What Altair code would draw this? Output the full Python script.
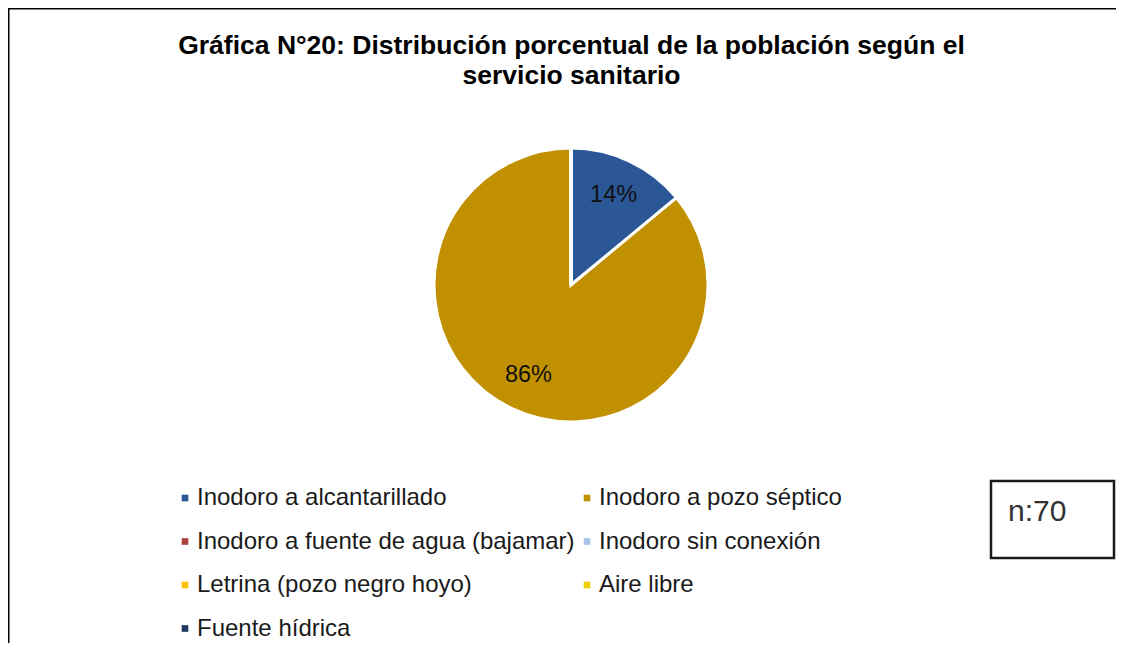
import altair as alt
import pandas as pd

# ---- data ----
categories = [
    "Inodoro a alcantarillado",
    "Inodoro a pozo séptico",
    "Inodoro a fuente de agua (bajamar)",
    "Inodoro sin conexión",
    "Letrina (pozo negro hoyo)",
    "Aire libre",
    "Fuente hídrica",
]
percentages = [14, 86, 0, 0, 0, 0, 0]
colors = ["#2B5797", "#C09000", "#A9423E", "#A9C4E8", "#FFC000", "#F0D000", "#1F3864"]
# legend entries are laid out column by column: 4 in the first column, 3 in the second
legend_order = [
    "Inodoro a alcantarillado",
    "Inodoro a fuente de agua (bajamar)",
    "Letrina (pozo negro hoyo)",
    "Fuente hídrica",
    "Inodoro a pozo séptico",
    "Inodoro sin conexión",
    "Aire libre",
]
title_lines = [
    "Gráfica N°20: Distribución porcentual de la población según el",
    "servicio sanitario",
]
sample_note = "n:70"

df = pd.DataFrame({
    "categoria": categories,
    "valor": percentages,
    "orden": list(range(len(categories))),
})
df["etiqueta"] = [f"{v}%" for v in percentages]

W, H = 1108, 635
CX, CY, R = 563, 277, 137
FONT = "Liberation Sans"

base = alt.Chart(df)

color_enc = alt.Color(
    "categoria:N",
    scale=alt.Scale(domain=categories, range=colors),
    legend=alt.Legend(
        orient="none",
        legendX=165,
        legendY=478,
        columns=2,
        values=legend_order,
        title=None,
        symbolType="square",
        symbolSize=44,
        symbolStrokeWidth=0,
        labelFont=FONT,
        labelFontSize=24,
        labelColor="#1a1a1a",
        labelLimit=700,
        labelOffset=0,
        rowPadding=19.5,
        columnPadding=0,
        padding=0,
    ),
)

pie = base.mark_arc(radius=R, stroke="white", strokeWidth=3).encode(
    theta=alt.Theta("valor:Q", stack=True),
    color=color_enc,
    order=alt.Order("orden:Q"),
    x=alt.value(CX),
    y=alt.value(CY),
)

labels = base.transform_filter("datum.valor > 0").mark_text(
    radius=100, font=FONT, fontSize=23.5, color="#111111", align="center", baseline="middle"
).encode(
    theta=alt.Theta("valor:Q", stack=True),
    order=alt.Order("orden:Q"),
    text="etiqueta:N",
    x=alt.value(CX),
    y=alt.value(CY),
)

title1 = alt.Chart(pd.DataFrame({"t": [title_lines[0]]})).mark_text(
    font=FONT, fontSize=26.5, fontWeight="bold", color="#000000", align="center", baseline="alphabetic"
).encode(text="t:N", x=alt.value(563.5), y=alt.value(45.5))

title2 = alt.Chart(pd.DataFrame({"t": [title_lines[1]]})).mark_text(
    font=FONT, fontSize=26.5, fontWeight="bold", color="#000000", align="center", baseline="alphabetic"
).encode(text="t:N", x=alt.value(563.5), y=alt.value(76))

frame_top = alt.Chart(pd.DataFrame({"a": [0]})).mark_rule(color="#000000", strokeWidth=2).encode(
    x=alt.value(0), x2=alt.value(W), y=alt.value(0.5)
)
frame_left = alt.Chart(pd.DataFrame({"a": [0]})).mark_rule(color="#000000", strokeWidth=2).encode(
    x=alt.value(0.5), y=alt.value(0), y2=alt.value(H)
)

note_box = alt.Chart(pd.DataFrame({"a": [0]})).mark_rect(
    fill="white", stroke="#1a1a1a", strokeWidth=2.5
).encode(x=alt.value(983), x2=alt.value(1106), y=alt.value(473), y2=alt.value(550))

note_text = alt.Chart(pd.DataFrame({"t": [sample_note]})).mark_text(
    font=FONT, fontSize=30, color="#333333", align="left", baseline="middle"
).encode(text="t:N", x=alt.value(1000), y=alt.value(504))

chart = alt.layer(
    frame_top, frame_left, title1, title2, pie, labels, note_box, note_text
).resolve_scale(theta="shared").properties(
    width=W, height=H, padding=0, autosize=alt.AutoSizeParams(type="none")
).configure_view(stroke=None).configure(background="white")

chart.save("out.html", embed_options={"renderer": "svg", "actions": False})
